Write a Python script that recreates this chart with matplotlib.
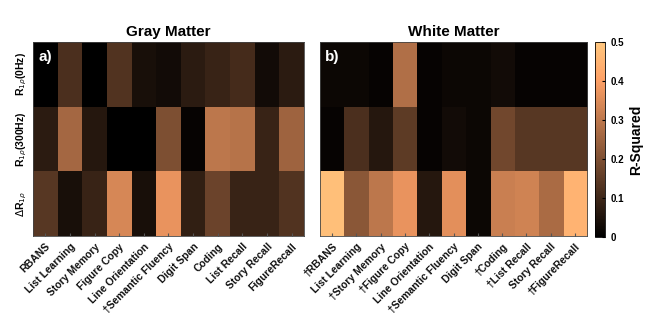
import matplotlib
matplotlib.use("Agg")
import matplotlib.pyplot as plt
import numpy as np

plt.rcParams["font.family"] = ["Liberation Sans", "DejaVu Sans"]

rows = [r"R$_{1\rho}$(0Hz)", r"R$_{1\rho}$(300Hz)", r"$\Delta$R$_{1\rho}$"]

gray_labels = ["RBANS", "List Learning", "Story Memory", "Figure Copy", "Line Orientation",
               "†Semantic Fluency", "Digit Span", "Coding", "List Recall", "Story Recall", "FigureRecall"]
white_labels = ["†RBANS", "List Learning", "†Story Memory", "†Figure Copy", "Line Orientation",
                "†Semantic Fluency", "Digit Span", "†Coding", "†List Recall", "Story Recall", "†FigureRecall"]

gray_r2 = np.array([
    [0.00, 0.12, 0.00, 0.13, 0.04, 0.03, 0.07, 0.09, 0.11, 0.03, 0.07],
    [0.07, 0.26, 0.06, 0.00, 0.00, 0.20, 0.01, 0.30, 0.29, 0.09, 0.25],
    [0.14, 0.04, 0.09, 0.34, 0.04, 0.37, 0.08, 0.17, 0.09, 0.09, 0.13],
])
white_r2 = np.array([
    [0.02, 0.02, 0.01, 0.28, 0.01, 0.02, 0.02, 0.03, 0.01, 0.01, 0.01],
    [0.01, 0.12, 0.06, 0.15, 0.01, 0.03, 0.02, 0.18, 0.14, 0.14, 0.14],
    [0.48, 0.22, 0.30, 0.37, 0.06, 0.36, 0.02, 0.32, 0.33, 0.27, 0.45],
])

fig = plt.figure(figsize=(6.53, 3.26), dpi=100)
ax1 = fig.add_axes([0.0505, 0.276, 0.415, 0.595])
ax2 = fig.add_axes([0.490, 0.276, 0.409, 0.595])
cax = fig.add_axes([0.911, 0.273, 0.016, 0.598])

for ax, data, labels, title, tag in [(ax1, gray_r2, gray_labels, "Gray Matter", "a)"),
                                     (ax2, white_r2, white_labels, "White Matter", "b)")]:
    im = ax.imshow(data, cmap="copper", vmin=0, vmax=0.5, aspect="auto", interpolation="nearest")
    ax.set_title(title, fontsize=11, fontweight="bold", pad=4)
    ax.set_xticks(range(len(labels)))
    ax.set_xticklabels(labels, rotation=45, ha="right", rotation_mode="anchor",
                       fontsize=7.5, fontweight="bold")
    ax.tick_params(axis="x", direction="in", length=2, pad=4, colors="#555555", labelcolor="#111111")
    ax.text(0.02, 0.96, tag, transform=ax.transAxes, color="white", fontsize=11,
            fontweight="bold", va="top", ha="left")
    for s in ax.spines.values():
        s.set_color("#444444")
        s.set_linewidth(0.6)

ax1.set_yticks(range(3))
ax1.set_yticklabels(rows, rotation=90, va="center", fontsize=7.5, fontweight="bold")
ax1.tick_params(axis="y", length=0, pad=3)
ax2.set_yticks([])

cb = fig.colorbar(im, cax=cax)
cb.set_ticks([0, 0.1, 0.2, 0.3, 0.4, 0.5])
cb.set_ticklabels(["0", "0.1", "0.2", "0.3", "0.4", "0.5"])
cb.ax.tick_params(labelsize=7, length=2, direction="in")
for t in cb.ax.get_yticklabels():
    t.set_fontweight("bold")
cb.set_label("R-Squared", fontsize=10, fontweight="bold", labelpad=4)
cb.outline.set_linewidth(0.6)

fig.savefig("out.png", dpi=100)
